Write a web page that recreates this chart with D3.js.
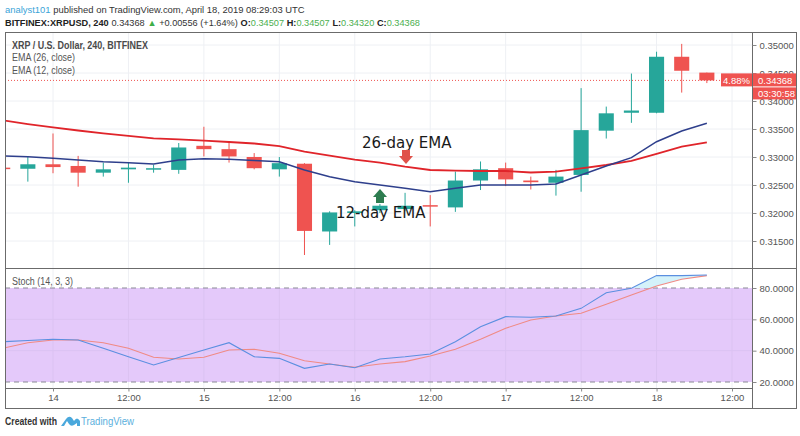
<!DOCTYPE html>
<html><head><meta charset="utf-8">
<script src="https://cdn.jsdelivr.net/npm/d3@7"></script>
<style>body{margin:0;background:#fff}svg{display:block}</style>
</head><body>
<svg id="c" width="800" height="436"></svg>
<script>
const candleTimes = ["2019-04-13T16:00Z","2019-04-13T20:00Z",
 "2019-04-14T00:00Z","2019-04-14T04:00Z","2019-04-14T08:00Z","2019-04-14T12:00Z","2019-04-14T16:00Z","2019-04-14T20:00Z",
 "2019-04-15T00:00Z","2019-04-15T04:00Z","2019-04-15T08:00Z","2019-04-15T12:00Z","2019-04-15T16:00Z","2019-04-15T20:00Z",
 "2019-04-16T00:00Z","2019-04-16T04:00Z","2019-04-16T08:00Z","2019-04-16T12:00Z","2019-04-16T16:00Z","2019-04-16T20:00Z",
 "2019-04-17T00:00Z","2019-04-17T04:00Z","2019-04-17T08:00Z","2019-04-17T12:00Z","2019-04-17T16:00Z","2019-04-17T20:00Z",
 "2019-04-18T00:00Z","2019-04-18T04:00Z","2019-04-18T08:00Z"];
const opens  = [0.3281,0.3279,0.3287,0.3284,0.3272,0.3278,0.3279,0.3277,0.3320,0.3314,0.3300,0.3278,0.3288,0.3167,0.3200,0.3205,0.3207,0.3214,0.3210,0.3258,0.3280,0.3258,0.3254,0.3268,0.3347,0.3379,0.3379,0.3479,0.34507];
const highs  = [0.3283,0.3300,0.3342,0.3302,0.3290,0.3290,0.3286,0.3325,0.3354,0.3325,0.3307,0.3300,0.3289,0.3203,0.3205,0.3216,0.3236,0.3232,0.3274,0.3292,0.3290,0.3265,0.3277,0.3423,0.3390,0.3449,0.3488,0.3502,0.34507];
const lows   = [0.3277,0.3256,0.3271,0.3247,0.3265,0.3254,0.3272,0.3270,0.3301,0.3290,0.3278,0.3265,0.3125,0.3143,0.3176,0.3200,0.3203,0.3176,0.3202,0.3241,0.3248,0.3242,0.3231,0.3238,0.3333,0.3361,0.3378,0.3415,0.34320];
const closes = [0.3279,0.3287,0.3282,0.3272,0.3278,0.3281,0.3280,0.3317,0.3314,0.3301,0.3280,0.3289,0.3168,0.3201,0.3203,0.3213,0.3213,0.3212,0.3258,0.3278,0.3260,0.3255,0.3265,0.3348,0.3378,0.3383,0.3479,0.3454,0.34368];
const ema26  = [0.33655,0.33589,0.33530,0.33473,0.33423,0.33379,0.33334,0.33313,0.33291,0.33268,0.33241,0.33196,0.33095,0.33023,0.32955,0.32898,0.32827,0.32768,0.32755,0.32750,0.32750,0.32723,0.32738,0.32798,0.32857,0.32929,0.33054,0.33184,0.33263];
const ema12  = [0.33018,0.33004,0.32977,0.32946,0.32916,0.32896,0.32875,0.32946,0.32970,0.32959,0.32938,0.32916,0.32768,0.32648,0.32559,0.32500,0.32441,0.32380,0.32441,0.32500,0.32500,0.32500,0.32518,0.32679,0.32839,0.32988,0.33273,0.33464,0.33602];
const stochK = [45.7,46.5,47.3,46.8,41.5,36.1,30.9,35.6,40.4,45.1,36.1,35.1,28.7,31.5,29.1,34.7,36.1,37.9,45.7,55.3,61.7,61.3,62.1,67.0,77.0,79.8,87.9,87.9,88.3];
const stochD = [41.5,45.1,46.8,46.8,45.1,41.5,35.8,34.7,35.8,40.4,40.9,38.3,33.6,31.5,29.4,31.5,33.0,36.6,40.9,47.3,54.3,59.6,62.1,63.9,69.6,75.5,81.3,85.6,87.9];
const priceTicks = [0.315,0.32,0.325,0.33,0.335,0.34,0.345,0.35];
const stochTicks = [20,40,60,80];
const timeTicks = ["2019-04-14T00:00Z","2019-04-14T12:00Z","2019-04-15T00:00Z","2019-04-15T12:00Z","2019-04-16T00:00Z","2019-04-16T12:00Z","2019-04-17T00:00Z","2019-04-17T12:00Z","2019-04-18T00:00Z","2019-04-18T12:00Z"];
const timeTickLabels = ["14","12:00","15","12:00","16","12:00","17","12:00","18","12:00"];
const lastChangePct = "4.88%";
const countdown = "03:30:58";

const svg = d3.select("#c");
const L=5, R=752, OR=796, T=32, MB=268, SB=388, AB=408;
const UP="#26a69a", DN="#ef5350";
const font="'Liberation Sans', Arial, sans-serif";

const x = d3.scaleUtc().domain([new Date("2019-04-14T00:00Z"), new Date("2019-04-18T12:00Z")]).range([53,732]);
const y = d3.scaleLinear().domain([0.315,0.35]).range([241,45]);
const ys = d3.scaleLinear().domain([20,80]).range([382,288]);

const candles = candleTimes.map((t,i)=>({t:new Date(t),o:opens[i],h:highs[i],l:lows[i],c:closes[i],e26:ema26[i],e12:ema12[i],k:stochK[i],d:stochD[i]}));
const step = x(candles[1].t)-x(candles[0].t);
const bw = step*0.6;

const defs = svg.append("defs");
defs.append("clipPath").attr("id","mainClip").append("rect").attr("x",L).attr("y",T).attr("width",R-L).attr("height",MB-T);
defs.append("clipPath").attr("id","stochClip").append("rect").attr("x",L).attr("y",MB).attr("width",R-L).attr("height",SB-MB);
defs.append("clipPath").attr("id","above80").append("rect").attr("x",L).attr("y",MB).attr("width",R-L).attr("height",ys(80)-MB);

// gridlines main pane
const gMain = svg.append("g").attr("clip-path","url(#mainClip)");
gMain.selectAll(".hg").data(priceTicks).join("line").attr("x1",L).attr("x2",R).attr("y1",d=>y(d)).attr("y2",d=>y(d)).attr("stroke","#eef0f4");
gMain.selectAll(".vg").data(timeTicks).join("line").attr("x1",d=>x(new Date(d))).attr("x2",d=>x(new Date(d))).attr("y1",T).attr("y2",MB).attr("stroke","#eef0f4");

// stoch pane
const gSt = svg.append("g").attr("clip-path","url(#stochClip)");
gSt.selectAll(".vg").data(timeTicks).join("line").attr("x1",d=>x(new Date(d))).attr("x2",d=>x(new Date(d))).attr("y1",MB).attr("y2",SB).attr("stroke","#eef0f4");
gSt.append("rect").attr("x",L).attr("width",R-L).attr("y",ys(80)).attr("height",ys(20)-ys(80)).attr("fill","#e4c9fa");
gSt.selectAll(".hg").data(stochTicks.filter(v=>v>20&&v<80)).join("line").attr("x1",L).attr("x2",R).attr("y1",d=>ys(d)).attr("y2",d=>ys(d)).attr("stroke","#dbc2f2");
gSt.selectAll(".vg2").data(timeTicks).join("line").attr("x1",d=>x(new Date(d))).attr("x2",d=>x(new Date(d))).attr("y1",ys(80)).attr("y2",ys(20)).attr("stroke","#dbc2f2");
gSt.selectAll(".dl").data([80,20]).join("line").attr("x1",L).attr("x2",R).attr("y1",d=>ys(d)).attr("y2",d=>ys(d)).attr("stroke","#8a8a96").attr("stroke-width",1.2).attr("stroke-dasharray","5,4");
gSt.append("path").datum(candles).attr("clip-path","url(#above80)").attr("fill","#d4f2fa")
  .attr("d",d3.area().x(d=>x(d.t)).y0(d=>ys(d.d)).y1(d=>ys(d.k)));
gSt.append("path").datum(candles).attr("fill","none").attr("stroke","#f08a84").attr("stroke-width",1.1)
  .attr("d",d3.line().x(d=>x(d.t)).y(d=>ys(d.d)));
gSt.append("path").datum(candles).attr("fill","none").attr("stroke","#5b8fe0").attr("stroke-width",1.1)
  .attr("d",d3.line().x(d=>x(d.t)).y(d=>ys(d.k)));

// current price dotted line
const lastC = closes[closes.length-1];
gMain.append("line").attr("x1",L).attr("x2",R).attr("y1",y(lastC)).attr("y2",y(lastC)).attr("stroke",DN).attr("stroke-width",1).attr("stroke-dasharray","1,2");

// candles
const cg = gMain.selectAll(".cd").data(candles).join("g");
cg.append("line").attr("x1",d=>x(d.t)).attr("x2",d=>x(d.t)).attr("y1",d=>y(d.h)).attr("y2",d=>y(d.l))
  .attr("stroke",d=>d.c>=d.o?UP:DN).attr("stroke-width",1);
cg.append("rect").attr("x",d=>x(d.t)-bw/2).attr("width",bw)
  .attr("y",d=>y(Math.max(d.o,d.c))).attr("height",d=>Math.max(1.5,Math.abs(y(d.o)-y(d.c))))
  .attr("fill",d=>d.c>=d.o?UP:DN);

// EMAs
gMain.append("path").datum(candles).attr("fill","none").attr("stroke","#e0242a").attr("stroke-width",1.8)
  .attr("d",d3.line().x(d=>x(d.t)).y(d=>y(d.e26)));
gMain.append("path").datum(candles).attr("fill","none").attr("stroke","#2e3f8c").attr("stroke-width",1.5)
  .attr("d",d3.line().x(d=>x(d.t)).y(d=>y(d.e12)));

// frame
const fr = svg.append("g").attr("stroke","#6b6b6b").attr("stroke-width",1).attr("fill","none");
fr.append("rect").attr("x",L+0.5).attr("y",T+0.5).attr("width",OR-L).attr("height",AB-T);
fr.append("line").attr("x1",L).attr("x2",OR).attr("y1",MB+0.5).attr("y2",MB+0.5);
fr.append("line").attr("x1",L).attr("x2",R).attr("y1",SB+0.5).attr("y2",SB+0.5);
fr.append("line").attr("x1",R+0.5).attr("x2",R+0.5).attr("y1",T).attr("y2",AB);

// price axis
const pa = svg.append("g").attr("transform",`translate(${R+0.5},0)`)
  .call(d3.axisRight(y).tickValues(priceTicks).tickFormat(d3.format(".5f")).tickSize(4).tickPadding(3));
pa.select(".domain").remove();
pa.selectAll("line").attr("stroke","#888");
pa.selectAll("text").attr("fill","#555").attr("font-size","9.5px").attr("font-family",font);

// stoch axis
const sa = svg.append("g").attr("transform",`translate(${R+0.5},0)`)
  .call(d3.axisRight(ys).tickValues(stochTicks).tickFormat(d3.format(".4f")).tickSize(4).tickPadding(3));
sa.select(".domain").remove();
sa.selectAll("line").attr("stroke","#888");
sa.selectAll("text").attr("fill","#555").attr("font-size","9.5px").attr("font-family",font);

// time axis
const ta = svg.append("g").attr("transform",`translate(0,${SB+0.5})`)
  .call(d3.axisBottom(x).tickValues(timeTicks.map(d=>new Date(d))).tickFormat((d,i)=>timeTickLabels[i]).tickSize(3).tickPadding(3));
ta.select(".domain").remove();
ta.selectAll("line").attr("stroke","#888");
ta.selectAll("text").attr("fill","#555").attr("font-size","9.5px").attr("font-family",font);

// price label boxes
const py = y(lastC);
svg.append("rect").attr("x",721).attr("y",py-7).attr("width",R-721).attr("height",13).attr("fill",DN);
svg.append("rect").attr("x",R+1).attr("y",py-7).attr("width",OR-R-1).attr("height",13).attr("fill",DN);
svg.append("rect").attr("x",R+1).attr("y",py+7).attr("width",OR-R-1).attr("height",12).attr("fill",DN);
svg.append("text").attr("x",736.5).attr("y",py+3.5).attr("text-anchor","middle").attr("fill","#fff").attr("font-size","9.5px").attr("font-family",font).text(lastChangePct);
svg.append("text").attr("x",758).attr("y",py+3.5).attr("fill","#fff").attr("font-size","9.5px").attr("font-family",font).text(d3.format(".5f")(lastC));
svg.append("text").attr("x",758).attr("y",py+16.5).attr("fill","#fff").attr("font-size","9.5px").attr("font-family",font).text(countdown);

// legends
function fitText(xp, yp, str, w, opts){
  const t = svg.append("text").attr("x",xp).attr("y",yp).attr("font-family",font)
    .attr("font-size",opts.size||"10px").attr("fill",opts.fill||"#555").text(str);
  if(opts.bold) t.attr("font-weight","bold");
  const nat = t.node().getComputedTextLength();
  if (nat > w) t.attr("textLength",w).attr("lengthAdjust","spacingAndGlyphs");
  return t;
}
fitText(12,49,"XRP / U.S. Dollar, 240, BITFINEX",136,{bold:true,fill:"#4a4a4a"});
fitText(12,61,"EMA (26, close)",63,{});
fitText(12,74,"EMA (12, close)",63,{});
fitText(12,285,"Stoch (14, 3, 3)",61,{});

// header: lay segments sequentially, scaled to the reference widths
function headerLine(yp, segs, totalW){
  const g = svg.append("g");
  const base = 10.5;
  const nodes = segs.map(s=>{
    const t = g.append("text").attr("y",yp).attr("font-family",font).attr("font-size",base+"px")
      .attr("fill",s.fill).attr("font-weight",s.bold?"bold":"normal").text(s.t);
    return t;
  });
  const widths = nodes.map(n=>n.node().getComputedTextLength());
  const gap = 3;
  const tot = d3.sum(widths) + gap*(segs.filter(s=>s.gap).length);
  const k = Math.min(1, totalW / tot);
  let cx = 5;
  nodes.forEach((n,i)=>{
    if (segs[i].gap) cx += gap*k;
    n.attr("x",cx).attr("font-size",(base*k)+"px");
    cx += widths[i]*k;
  });
}
headerLine(13,[
  {t:"analyst101",fill:"#3ba4d8"},
  {t:"published on TradingView.com, April 18, 2019 08:29:03 UTC",fill:"#333",gap:true}
],300);
headerLine(26,[
  {t:"BITFINEX:XRPUSD, 240",fill:"#222",bold:true},
  {t:"0.34368",fill:"#333",gap:true},
  {t:"▲",fill:"#3fae49",gap:true},
  {t:"+0.00556 (+1.64%)",fill:"#333",gap:true},
  {t:"O:",fill:"#222",bold:true,gap:true},{t:"0.34507",fill:"#4caf50"},
  {t:"H:",fill:"#222",bold:true,gap:true},{t:"0.34507",fill:"#4caf50"},
  {t:"L:",fill:"#222",bold:true,gap:true},{t:"0.34320",fill:"#4caf50"},
  {t:"C:",fill:"#222",bold:true,gap:true},{t:"0.34368",fill:"#4caf50"}
],415);

// annotations
const ann = "'DejaVu Sans', Verdana, sans-serif";
svg.append("text").attr("x",362).attr("y",148).attr("fill","#1a1a1a").attr("font-size","15px").attr("font-family",ann).text("26-day EMA");
svg.append("text").attr("x",336).attr("y",218).attr("fill","#1a1a1a").attr("font-size","15px").attr("font-family",ann).text("12-day EMA");
svg.append("path").attr("fill","#e0524a").attr("d","M402,150 L410,150 L410,156 L413,156 L406,164 L399,156 L402,156 Z");
svg.append("path").attr("fill","#2e7d50").attr("d","M380,189 L387,197 L384,197 L384,203 L376,203 L376,197 L373,197 Z");

// footer
fitText(5,425,"Created with",52,{bold:true,fill:"#333",size:"10.5px"});
svg.append("path").attr("fill","#4aa8dc").attr("d","M61,426 L66,419 Q69,415 72,418 L74,421 Q77,416 80,421 L80,426 L77,426 L77,423 L74,425 Q71,427 69,424 L67,421 L64,426 Z");
fitText(81,425,"TradingView",53,{fill:"#5ab0dd",size:"10.5px"});
</script>
</body></html>
